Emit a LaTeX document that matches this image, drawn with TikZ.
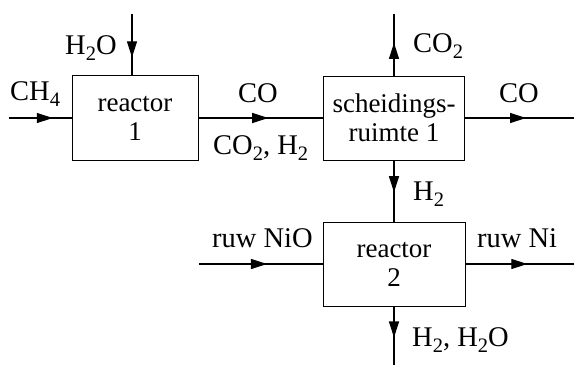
\documentclass[tikz,border=0pt]{standalone}
\usepackage{fontspec}
\setmainfont{Liberation Serif}
\usetikzlibrary{arrows.meta,decorations.markings}
\newcommand{\dsub}[1]{\raisebox{-6pt}{\fontsize{20.5}{20.5}\selectfont #1}}
\begin{document}
\begin{tikzpicture}[x=1pt,y=-1pt,
  txt/.style={font=\fontsize{27}{29}\selectfont},
  unitbox/.style={draw,line width=0.9pt,rectangle,align=center,txt},
  lbl/.style={anchor=base west,inner sep=0pt,font=\fontsize{28.5}{30}\selectfont},
  flow/.style={line width=1.2pt,postaction={decorate},
    decoration={markings,mark=at position #1 with {\arrow{Triangle[length=16pt,width=10pt]}}}}]
\useasboundingbox (0,0) rectangle (574,365);
\node[unitbox,minimum width=126pt,minimum height=85pt] (r1) at (135,118) {reactor\\1};
\node[unitbox,minimum width=141pt,minimum height=84pt] (s1) at (394,118) {scheidings-\\ruimte 1};
\node[unitbox,minimum width=142pt,minimum height=84pt] (r2) at (394,264) {reactor\\2};
\coordinate (ch4in) at (9,118);
\coordinate (h2oin) at (132,14);
\coordinate (coout) at (574,118);
\coordinate (co2out) at (394,14);
\coordinate (niin) at (199,264);
\coordinate (niout) at (574,264);
\coordinate (h2oout) at (394,365);
\draw[flow=0.70] (ch4in) -- (r1.west);
\draw[flow=0.71] (h2oin) -- (h2oin |- r1.north);
\draw[flow=0.56] (r1.east) -- (s1.west);
\draw[flow=0.56] (s1.east) -- (coout);
\draw[flow=0.53] (s1.north) -- (co2out);
\draw[flow=0.52] (s1.south) -- (r2.north);
\draw[flow=0.55] (niin) -- (r2.west);
\draw[flow=0.57] (r2.east) -- (niout);
\draw[flow=0.53] (r2.south) -- (h2oout);
\node[lbl] (lh2o) at (65,54) {H\dsub{2}O};
\node[lbl] (lch4) at (10,100) {CH\dsub{4}};
\node[lbl] (lco) at (238,102) {CO};
\node[lbl] (lco2h2) at (213,154) {CO\dsub{2}, H\dsub{2}};
\node[lbl] (lco2) at (413,52) {CO\dsub{2}};
\node[lbl] (lcoout) at (499,102) {CO};
\node[lbl] (lh2) at (413,200) {H\dsub{2}};
\node[lbl] (lnio) at (212,247) {ruw NiO};
\node[lbl] (lni) at (477,247) {ruw Ni};
\node[lbl] (lh2h2o) at (412,346) {H\dsub{2}, H\dsub{2}O};
\end{tikzpicture}
\end{document}
